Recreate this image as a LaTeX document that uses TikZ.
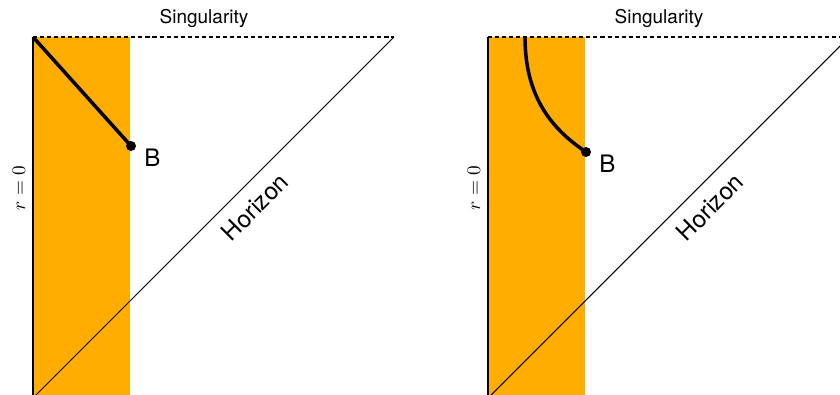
\documentclass[tikz,border=0pt]{standalone}
\usepackage{fontspec}
\setmainfont{TeX Gyre Heros}
\usetikzlibrary{positioning}
\definecolor{bhorange}{RGB}{255,173,0}

\begin{document}
\begin{tikzpicture}[
    edge/.style={line width=0.6pt},
    axisline/.style={line width=0.9pt},
    singline/.style={line width=1.1pt, dash pattern=on 2.3pt off 1.7pt},
    worldline/.style={line width=2pt},
    biglabel/.style={font=\fontsize{13.7}{16}\selectfont, inner sep=0pt},
    toplabel/.style={font=\fontsize{10.8}{13}\selectfont, inner sep=0pt}
]
    % 图幅（右图的视界被裁去一角）
    \clip (0,0) rectangle (16.8,7.88);

    % ===== 左图：直线世界线 =====
    \coordinate (O1) at (0.66,-0.08);
    \coordinate (S1) at (0.66,7.14);
    \coordinate (H1) at (7.88,7.14);
    \coordinate (E1) at (2.60,7.14);
    \coordinate (B1) at (2.62,4.96);

    % 橙色区域
    \fill[bhorange] (O1) rectangle (E1);

    % 奇点（虚线）、r=0 与视界
    \draw[singline] (S1) -- (H1);
    \draw[axisline] (O1) -- (S1);
    \draw[edge] (O1) -- (H1);

    % 世界线与点 B
    \draw[worldline] (S1) -- (B1);
    \fill (B1) circle (0.1);

    % 标注
    \node[toplabel] (sing1) at (4.08,7.52) {Singularity};
    \node[rotate=90, font=\fontsize{10.6}{12}\selectfont, inner sep=0pt] (r1) at (0.38,4.12) {$r=0$};
    \node[biglabel, rotate=45] (hor1) at (5.10,3.74) {Horizon};
    \node[biglabel, right=0.26cm of B1, yshift=-0.24cm] (b1) {B};

    % ===== 右图：弯曲世界线 =====
    \begin{scope}[xshift=9.10cm]
        \coordinate (O2) at (0.66,-0.08);
        \coordinate (S2) at (0.66,7.14);
        \coordinate (H2) at (7.88,7.14);
        \coordinate (E2) at (2.60,7.14);
        \coordinate (T2) at (1.40,7.14);
        \coordinate (B2) at (2.62,4.84);

        % 橙色区域
        \fill[bhorange] (O2) rectangle (E2);

        % 奇点（虚线）、r=0 与视界
        \draw[singline] (S2) -- (H2);
        \draw[axisline] (O2) -- (S2);
        \draw[edge] (O2) -- (H2);

        % 世界线与点 B
        \draw[worldline] (T2) .. controls (1.40,5.98) and (1.90,5.32) .. (B2);
        \fill (B2) circle (0.1);

        % 标注
        \node[toplabel] (sing2) at (4.08,7.52) {Singularity};
        \node[rotate=90, font=\fontsize{10.6}{12}\selectfont, inner sep=0pt] (r2) at (0.38,4.12) {$r=0$};
        \node[biglabel, rotate=45] (hor2) at (5.10,3.74) {Horizon};
        \node[biglabel, right=0.26cm of B2, yshift=-0.24cm] (b2) {B};
    \end{scope}
\end{tikzpicture}
\end{document}
